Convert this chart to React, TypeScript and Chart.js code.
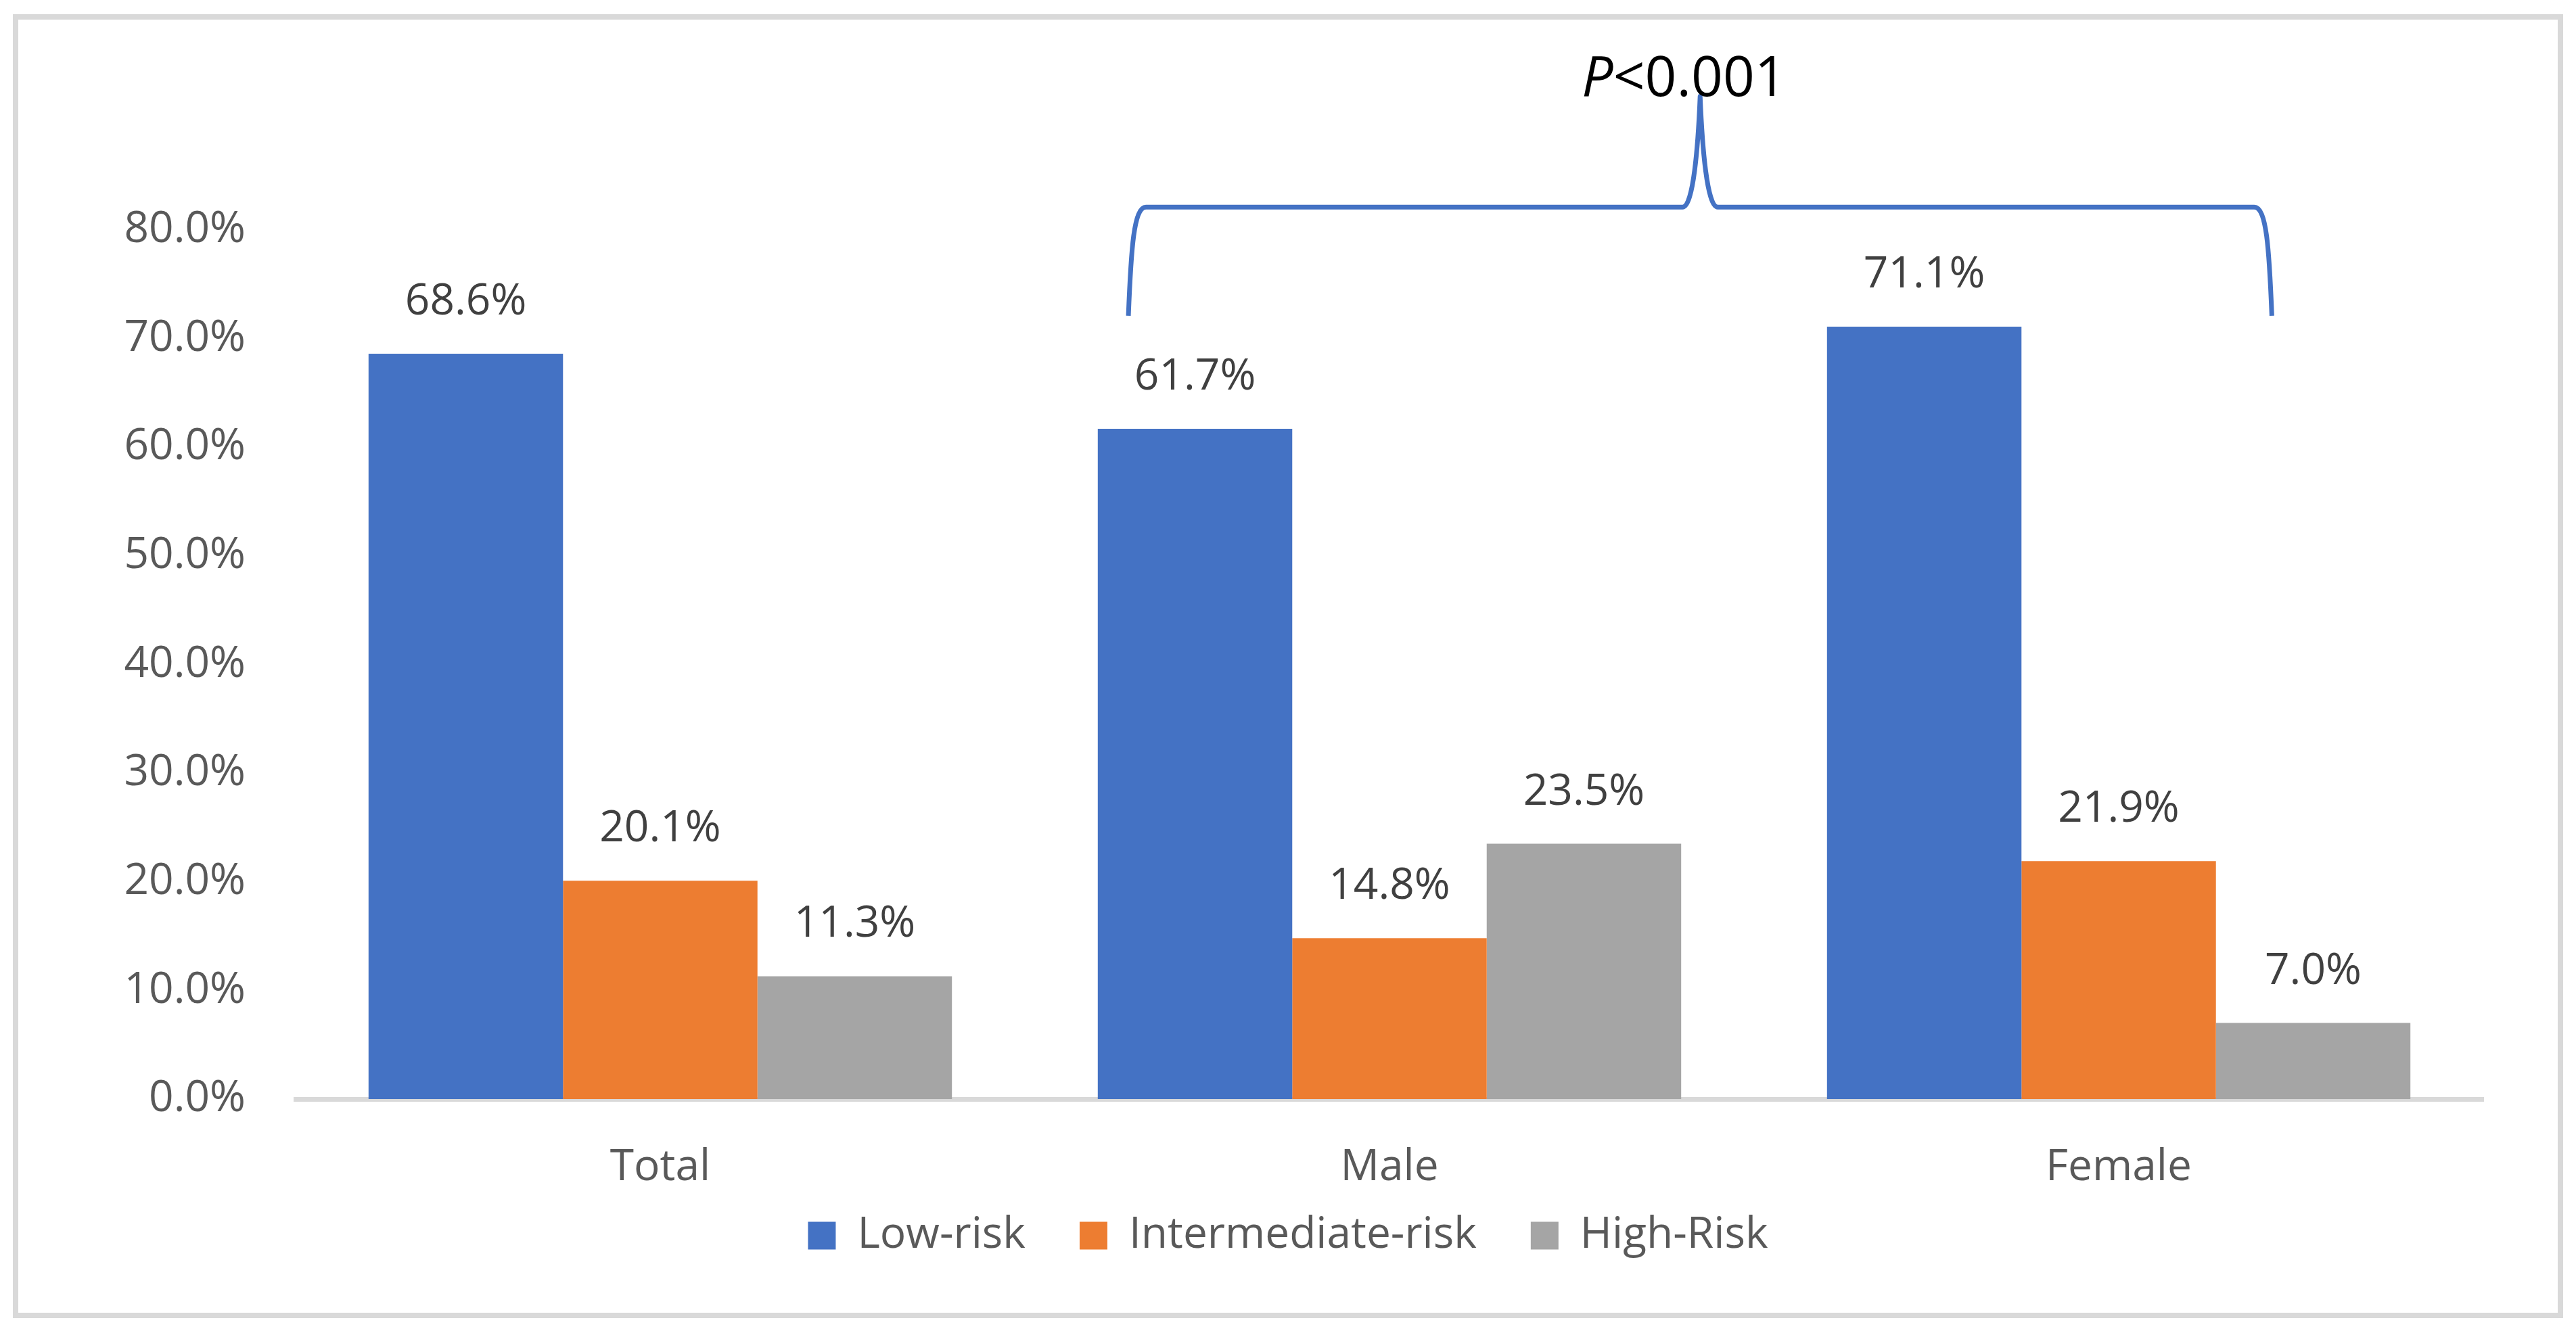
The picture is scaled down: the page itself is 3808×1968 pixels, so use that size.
import React, { useEffect, useRef } from "react";
import { Chart, registerables } from "chart.js";

Chart.register(...registerables);

const categories = ["Total", "Male", "Female"];
const seriesNames = ["Low-risk", "Intermediate-risk", "High-Risk"];
const lowRisk = [68.6, 61.7, 71.1];
const intermediateRisk = [20.1, 14.8, 21.9];
const highRisk = [11.3, 23.5, 7.0];
const seriesColors = ["#4472C4", "#ED7D31", "#A5A5A5"];
const yTicks = [0, 10, 20, 30, 40, 50, 60, 70, 80];
const pValueText = ["P", "<0.001"];

// brace over Male / Female, in category-index and value units
const BRACE = { from: 0.642, to: 2.21, tip: 1.426, low: 72.1, mid: 82.1, top: 92.3, textAt: 1.404 };

const FONT = "'Open Sans', 'Liberation Sans', sans-serif";
const FONT_SIZE = 64;
const LEGEND_LIFT = 50;

const frame = {
  id: "frame",
  beforeDraw(chart: Chart) {
    const { ctx, width, height } = chart;
    ctx.save();
    ctx.fillStyle = "#FFFFFF";
    ctx.fillRect(0, 0, width, height);
    ctx.strokeStyle = "#D9D9D9";
    ctx.lineWidth = 8;
    ctx.strokeRect(15, 17, width - 30, height - 32);
    ctx.restore();
  },
};

// legend padding also spaces the items apart; pull the row up closer to the axis
const liftLegend = {
  id: "liftLegend",
  afterLayout(chart: any) {
    const lg = chart.legend;
    if (lg) {
      lg.top -= LEGEND_LIFT;
      lg.bottom -= LEGEND_LIFT;
    }
  },
};

const extras = {
  id: "extras",
  afterDraw(chart: Chart) {
    const { ctx } = chart;
    const x = chart.scales.x;
    const y = chart.scales.y;
    ctx.save();

    // value labels
    ctx.font = `${FONT_SIZE}px ${FONT}`;
    ctx.fillStyle = "#404040";
    ctx.textAlign = "center";
    ctx.textBaseline = "alphabetic";
    chart.data.datasets.forEach((ds, i) => {
      const meta = chart.getDatasetMeta(i);
      meta.data.forEach((bar: any, j) => {
        const v = ds.data[j] as number;
        ctx.fillText(v.toFixed(1) + "%", bar.x, bar.y - 58);
      });
    });

    // brace
    const x0 = x.getPixelForValue(BRACE.from);
    const x1 = x.getPixelForValue(BRACE.to);
    const xt = x.getPixelForValue(BRACE.tip);
    const yb = y.getPixelForValue(BRACE.low);
    const ym = y.getPixelForValue(BRACE.mid);
    const yt = y.getPixelForValue(BRACE.top);
    const r = 26;
    ctx.strokeStyle = "#4472C4";
    ctx.lineWidth = 7;
    ctx.lineJoin = "round";
    ctx.beginPath();
    ctx.moveTo(x0, yb);
    ctx.bezierCurveTo(x0 + 4, ym + 60, x0 + 8, ym, x0 + r, ym);
    ctx.lineTo(xt - r, ym);
    ctx.bezierCurveTo(xt - r + 16, ym, xt - 3, ym - 90, xt, yt);
    ctx.bezierCurveTo(xt + 3, ym - 90, xt + r - 16, ym, xt + r, ym);
    ctx.lineTo(x1 - r, ym);
    ctx.bezierCurveTo(x1 - 8, ym, x1 - 4, ym + 60, x1, yb);
    ctx.stroke();

    // P value
    const italic = `italic 82px ${FONT}`;
    const normal = `82px ${FONT}`;
    ctx.font = italic;
    const w1 = ctx.measureText(pValueText[0]).width;
    ctx.font = normal;
    const w2 = ctx.measureText(pValueText[1]).width;
    const cx = x.getPixelForValue(BRACE.textAt);
    const start = cx - (w1 + w2) / 2;
    const base = y.getPixelForValue(BRACE.top);
    ctx.fillStyle = "#000000";
    ctx.textAlign = "left";
    ctx.font = italic;
    ctx.fillText(pValueText[0], start, base);
    ctx.font = normal;
    ctx.fillText(pValueText[1], start + w1, base);

    ctx.restore();
  },
};

const RiskChart = () => {
  const canvasRef = useRef<HTMLCanvasElement>(null);
  const chartRef = useRef<Chart | null>(null);

  useEffect(() => {
    if (!canvasRef.current) return;
    Chart.defaults.font.family = FONT;
    Chart.defaults.font.size = FONT_SIZE;
    Chart.defaults.color = "#595959";

    const seriesValues = [lowRisk, intermediateRisk, highRisk];
    chartRef.current = new Chart(canvasRef.current, {
      type: "bar",
      data: {
        labels: categories,
        datasets: seriesNames.map((name, i) => ({
          label: name,
          data: seriesValues[i],
          backgroundColor: seriesColors[i],
          borderWidth: 0,
          barPercentage: 1.0,
          categoryPercentage: 0.8,
        })),
      },
      options: {
        responsive: true,
        maintainAspectRatio: false,
        animation: false,
        layout: { padding: { left: 129, right: 129, top: 332, bottom: 41 } },
        scales: {
          x: {
            grid: { display: true, color: "rgba(0,0,0,0)", drawTicks: false },
            border: { display: true, color: "#D9D9D9", width: 7 },
            ticks: { padding: 63, color: "#595959", font: { size: FONT_SIZE } },
            afterFit: (scale: any) => {
              scale.height = 140;
            },
          },
          y: {
            min: 0,
            max: 80,
            grid: { display: false, drawTicks: false },
            border: { display: false },
            afterBuildTicks: (scale: any) => {
              scale.ticks = yTicks.map((v) => ({ value: v }));
            },
            afterFit: (scale: any) => {
              scale.width = 300;
            },
            ticks: {
              padding: 74,
              color: "#595959",
              font: { size: FONT_SIZE },
              callback: (v: any) => Number(v).toFixed(1) + "%",
            },
          },
        },
        plugins: {
          legend: {
            position: "bottom",
            labels: {
              boxWidth: 41,
              boxHeight: 41,
              padding: 80,
              color: "#595959",
              font: { size: FONT_SIZE },
            },
          },
          tooltip: { enabled: false },
        },
      },
      plugins: [frame, liftLegend, extras],
    });

    return () => {
      chartRef.current?.destroy();
      chartRef.current = null;
    };
  }, []);

  return (
    <div style={{ width: 3792, height: 1952, position: "relative" }}>
      <canvas ref={canvasRef} style={{ display: "block" }} />
    </div>
  );
};

export default function App() {
  return <RiskChart />;
}
